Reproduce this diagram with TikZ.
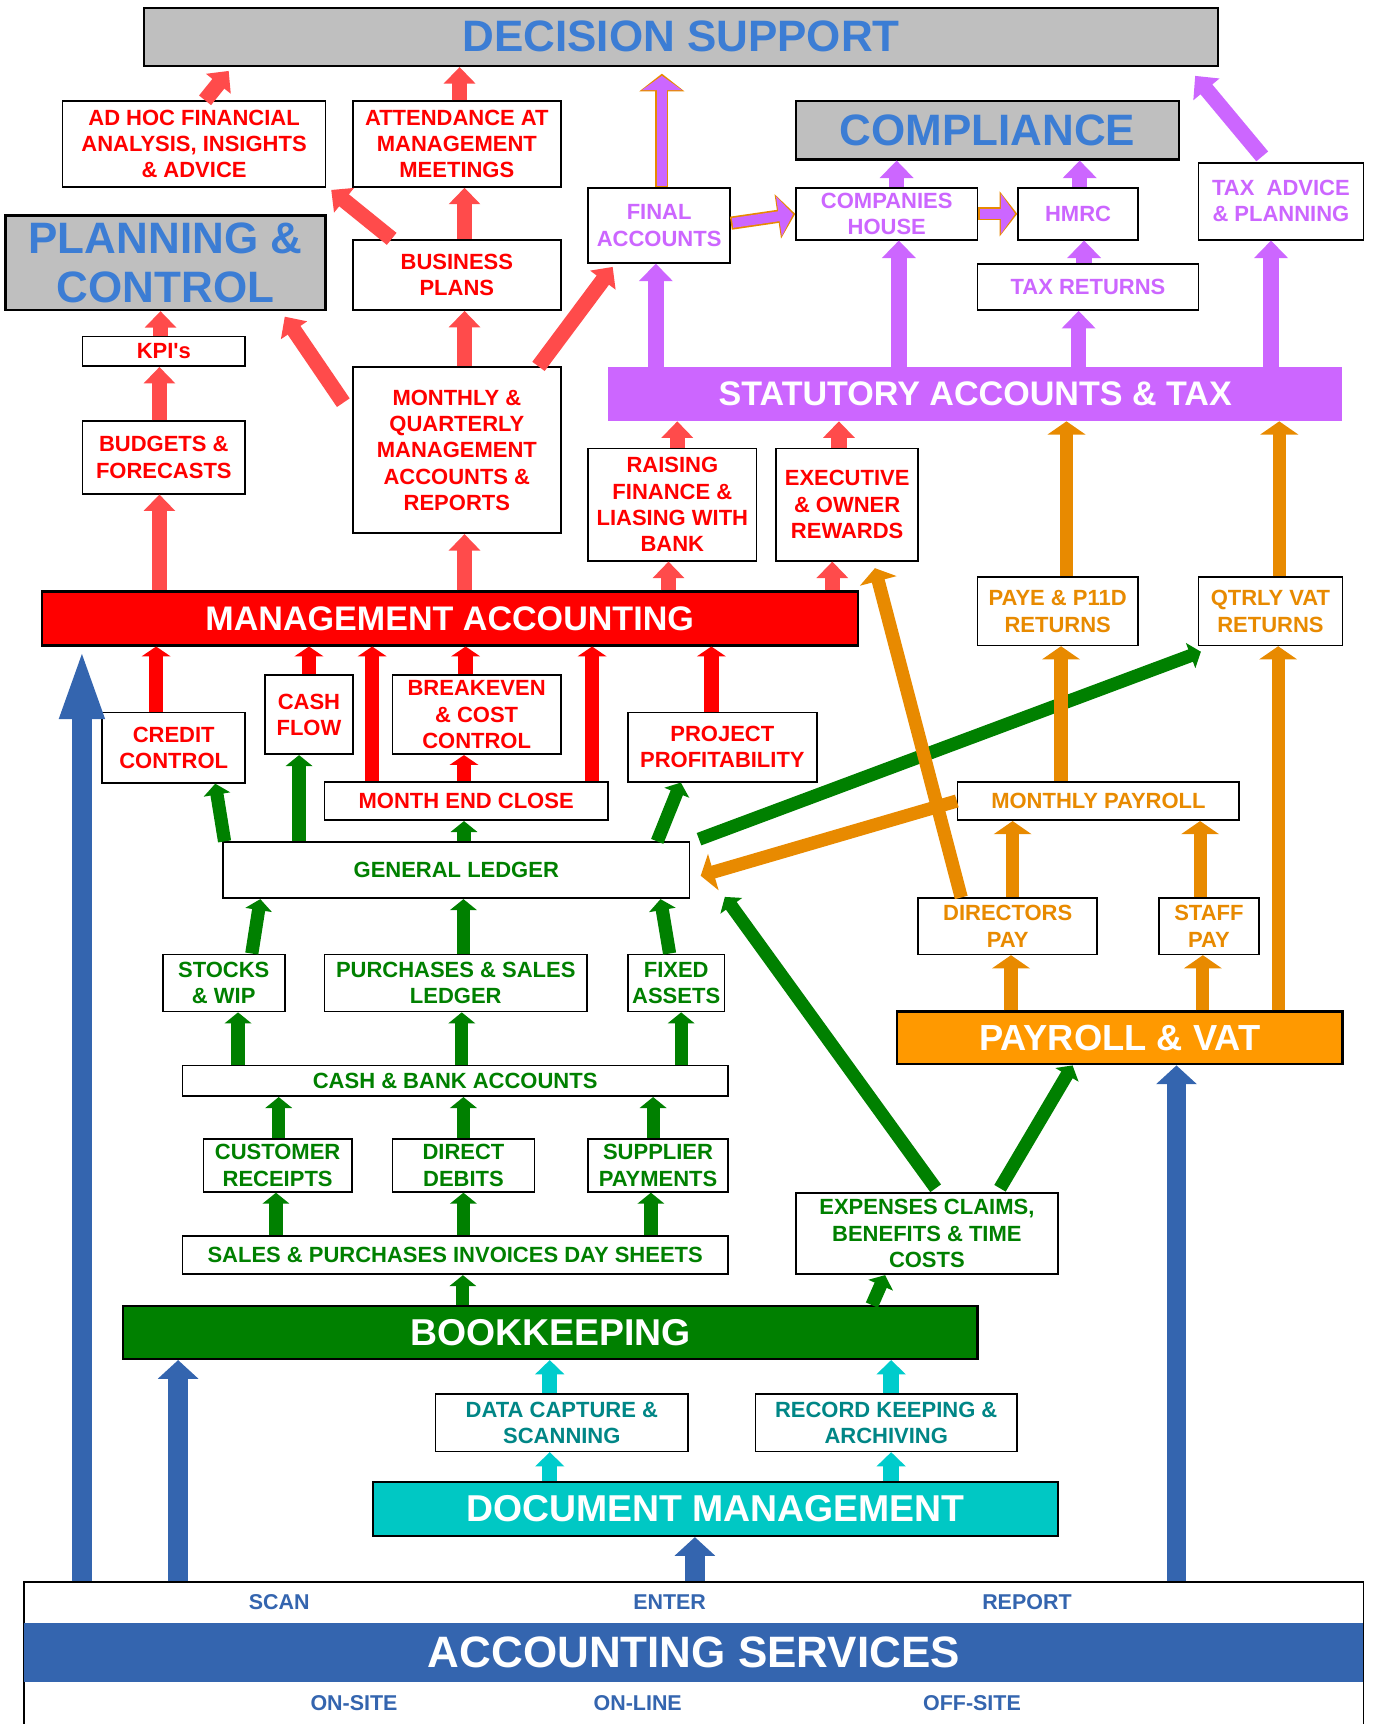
\documentclass[tikz,border=0pt]{standalone}
\usepackage{fontspec}
\setmainfont{Liberation Sans}
\usetikzlibrary{arrows.meta}
\definecolor{hdblue}{RGB}{60,125,212}
\definecolor{hdgray}{RGB}{191,191,191}
\definecolor{lred}{RGB}{255,75,75}
\definecolor{purp}{RGB}{204,102,255}
\definecolor{orng}{RGB}{232,138,0}
\definecolor{orfill}{RGB}{255,153,0}
\definecolor{grn}{RGB}{0,128,0}
\definecolor{tealtxt}{RGB}{0,134,134}
\definecolor{tealarr}{RGB}{0,204,204}
\definecolor{tealfill}{RGB}{0,200,196}
\definecolor{svcblue}{RGB}{52,101,175}

\begin{document}
\begin{tikzpicture}[x=1pt,y=-1pt,
  every node/.style={font=\bfseries\fontsize{20}{24}\selectfont,align=center,inner sep=0pt},
  main box/.style={draw=black,line width=1.5pt,fill=white},
  title box/.style={draw=black,line width=2pt,fill=hdgray,text=hdblue,font=\bfseries\fontsize{40}{45}\selectfont},
  bar/.style={text=white,font=\bfseries\fontsize{31}{36}\selectfont},
  big bar/.style={draw=black,line width=2pt,text=white,font=\bfseries\fontsize{34}{38}\selectfont},
  svc text/.style={text=svcblue,font=\bfseries\fontsize{19.5}{22}\selectfont},
  red arrow/.style={lred,line width=14pt,-{Triangle[width=28pt,length=15pt]}},
  bright arrow/.style={red,line width=13pt,-{Triangle[width=26pt,length=9pt]}},
  pur arrow/.style={purp,line width=14pt,-{Triangle[width=30pt,length=16pt]}},
  pur out/.style={orng,line width=12pt,-{Triangle[width=40pt,length=16pt]}},
  pur in/.style={purp,line width=9pt,shorten >=2pt,shorten <=1.5pt,-{Triangle[width=36pt,length=13pt]}},
  org arrow/.style={orng,line width=12pt,-{Triangle[width=34pt,length=12pt]}},
  grn arrow/.style={grn,line width=12pt,-{Triangle[width=24pt,length=10pt]}},
  teal arrow/.style={tealarr,line width=14pt,-{Triangle[width=26pt,length=13pt]}},
  blue arrow/.style={svcblue,line width=18pt,-{Triangle[width=36pt,length=17pt]}},
  blue long/.style={svcblue,line width=18pt,-{Triangle[width=36pt,length=66pt]}}]

\useasboundingbox (0,0) rectangle (1248,1568);

% Headings
  \node[title box,minimum width=977,minimum height=53] (dec) at (619.5,33.5) {DECISION SUPPORT};
  \node[title box,minimum width=348,minimum height=53] (comp) at (898,118.5) {COMPLIANCE};
  \node[title box,minimum width=291,minimum height=86] (plan) at (150.5,239) {PLANNING \&\\CONTROL};

% Decision support boxes
  \node[main box,text=red,minimum width=239,minimum height=78] (adhoc) at (176.5,131) {AD HOC FINANCIAL\\ANALYSIS, INSIGHTS\\\& ADVICE};
  \node[main box,text=red,minimum width=189,minimum height=78] (attend) at (415.5,131) {ATTENDANCE AT\\MANAGEMENT\\MEETINGS};
  \node[main box,text=red,minimum width=189,minimum height=64] (busplan) at (415.5,250) {BUSINESS\\PLANS};
  \node[main box,text=red,minimum width=148,minimum height=27] (kpi) at (149,319.5) {KPI\textquotesingle s};
  \node[main box,text=red,minimum width=148,minimum height=66] (budget) at (149,416) {BUDGETS \&\\FORECASTS};
  \node[main box,text=red,minimum width=189,minimum height=151] (monthly) at (415.5,409.5) {MONTHLY \&\\QUARTERLY\\MANAGEMENT\\ACCOUNTS \&\\REPORTS};
  \node[main box,text=red,minimum width=153,minimum height=102] (raising) at (611.5,459) {RAISING\\FINANCE \&\\LIASING WITH\\BANK};
  \node[main box,text=red,minimum width=129,minimum height=102] (exec) at (770.5,459) {EXECUTIVE\\\& OWNER\\REWARDS};

% Compliance boxes
  \node[main box,text=purp,minimum width=129,minimum height=68] (final) at (599.5,205) {FINAL\\ACCOUNTS};
  \node[main box,text=purp,minimum width=165,minimum height=47] (coho) at (806.5,194.5) {COMPANIES\\HOUSE};
  \node[main box,text=purp,minimum width=109,minimum height=47] (hmrc) at (980.5,194.5) {HMRC};
  \node[main box,text=purp,minimum width=150,minimum height=70] (taxadv) at (1165,183) {TAX\ \ ADVICE\\\& PLANNING};
  \node[main box,text=purp,minimum width=201,minimum height=42] (taxret) at (989.5,261) {TAX RETURNS};
  \node[bar,fill=purp,minimum width=668,minimum height=49] (stat) at (887,358.5) {STATUTORY ACCOUNTS \& TAX};

% Management accounting
  \node[bar,draw=black,line width=2pt,fill=red,minimum width=742,minimum height=49] (macc) at (409,562.5) {MANAGEMENT ACCOUNTING};
  \node[main box,text=red,minimum width=130,minimum height=64] (credit) at (158,680) {CREDIT\\CONTROL};
  \node[main box,text=red,minimum width=80,minimum height=72] (cashflow) at (281,650) {CASH\\FLOW};
  \node[main box,text=red,minimum width=153,minimum height=72] (breakeven) at (433.5,650) {BREAKEVEN\\\& COST\\CONTROL};
  \node[main box,text=red,minimum width=258,minimum height=35] (monthend) at (424,728.5) {MONTH END CLOSE};
  \node[main box,text=red,minimum width=172,minimum height=63] (project) at (657,679.5) {PROJECT\\PROFITABILITY};

% Bookkeeping
  \node[main box,text=grn,minimum width=424,minimum height=51] (gl) at (415,791.5) {GENERAL LEDGER};
  \node[main box,text=grn,minimum width=111,minimum height=52] (stocks) at (203.5,894) {STOCKS\\\& WIP};
  \node[main box,text=grn,minimum width=239,minimum height=52] (psl) at (414.5,894) {PURCHASES \& SALES\\LEDGER};
  \node[main box,text=grn,minimum width=88,minimum height=52] (fixed) at (615,894) {FIXED\\ASSETS};
  \node[main box,text=grn,minimum width=496,minimum height=28] (cashbank) at (414,983) {CASH \& BANK ACCOUNTS};
  \node[main box,text=grn,minimum width=135,minimum height=48] (custrec) at (252.5,1060) {CUSTOMER\\RECEIPTS};
  \node[main box,text=grn,minimum width=129,minimum height=48] (dd) at (421.5,1060) {DIRECT\\DEBITS};
  \node[main box,text=grn,minimum width=127,minimum height=48] (supp) at (598.5,1060) {SUPPLIER\\PAYMENTS};
  \node[main box,text=grn,minimum width=496,minimum height=35] (daysheet) at (414,1141.5) {SALES \& PURCHASES INVOICES DAY SHEETS};
  \node[main box,text=grn,minimum width=238,minimum height=74] (expenses) at (843,1122) {EXPENSES CLAIMS,\\BENEFITS \& TIME\\COSTS};
  \node[big bar,fill=grn,minimum width=777,minimum height=48] (book) at (500.5,1212) {BOOKKEEPING};

% Document management
  \node[main box,text=tealtxt,minimum width=230,minimum height=52] (datacap) at (511,1294) {DATA CAPTURE \&\\SCANNING};
  \node[main box,text=tealtxt,minimum width=238,minimum height=52] (record) at (806,1294) {RECORD KEEPING \&\\ARCHIVING};
  \node[big bar,fill=tealfill,minimum width=623,minimum height=49] (docmgmt) at (650.5,1372.5) {DOCUMENT MANAGEMENT};

% Payroll and VAT
  \node[main box,text=orng,minimum width=146,minimum height=62] (paye) at (962,556) {PAYE \& P11D\\RETURNS};
  \node[main box,text=orng,minimum width=131,minimum height=62] (qvat) at (1155.5,556) {QTRLY VAT\\RETURNS};
  \node[main box,text=orng,minimum width=256,minimum height=35] (mpay) at (999,728.5) {MONTHLY PAYROLL};
  \node[main box,text=orng,minimum width=163,minimum height=51] (dirpay) at (916.5,842.5) {DIRECTORS\\PAY};
  \node[main box,text=orng,minimum width=91,minimum height=51] (staffpay) at (1099.5,842.5) {STAFF\\PAY};
  \node[big bar,fill=orfill,font=\bfseries\fontsize{33}{38}\selectfont,minimum width=405,minimum height=48] (payvat) at (1018.5,944) {PAYROLL \& VAT};

% Accounting services
  \node[main box,minimum width=1218,minimum height=140] (accsvc) at (631,1509) {};
  \node[fill=svcblue,text=white,font=\bfseries\fontsize{40}{45}\selectfont,minimum width=1218,minimum height=54] (band) at (631,1503) {ACCOUNTING SERVICES};
  \node[svc text] (scan) at (254,1457) {SCAN};
  \node[svc text] (enter) at (609,1457) {ENTER};
  \node[svc text] (report) at (934,1457) {REPORT};
  \node[svc text] (onsite) at (322,1549) {ON-SITE};
  \node[svc text] (online) at (580,1549) {ON-LINE};
  \node[svc text] (offsite) at (884,1549) {OFF-SITE};

% RED ARROWS
  \path
    ([xshift=-4pt]budget.south |- macc.north) edge[red arrow] ([xshift=-4pt]budget.south)
    ([xshift=-4pt]budget.north) edge[red arrow] ([xshift=-4pt]budget.north |- kpi.south)
    ([xshift=-3pt]kpi.north) edge[red arrow] ([xshift=-3pt]kpi.north |- plan.south)
    ([xshift=-8pt,yshift=-33pt]monthly.north west) edge[red arrow] ([xshift=-38pt,yshift=-5pt]plan.south east)
    ([xshift=7pt]monthly.north) edge[red arrow] ([xshift=7pt]monthly.north |- busplan.south)
    ([xshift=-21pt]monthly.north east) edge[red arrow] ([xshift=23pt,yshift=-3pt]final.south west)
    ([xshift=36pt]busplan.north west) edge[red arrow] ([xshift=4.5pt,yshift=-2pt]adhoc.south east)
    ([xshift=7pt]busplan.north) edge[red arrow] ([xshift=7pt]busplan.north |- attend.south)
    ([xshift=10pt]adhoc.north) edge[red arrow] ([xshift=78pt,yshift=-3.5pt]dec.south west)
    ([xshift=2.5pt]attend.north) edge[red arrow] ([xshift=2.5pt]attend.north |- dec.south)
    ([xshift=7pt]monthly.south |- macc.north) edge[red arrow] ([xshift=7pt]monthly.south)
    ([xshift=-3.5pt]raising.south |- macc.north) edge[red arrow] ([xshift=-3.5pt]raising.south)
    ([xshift=-13.5pt]exec.south |- macc.north) edge[red arrow] ([xshift=-13.5pt]exec.south)
    ([xshift=4.5pt]raising.north) edge[red arrow] ([xshift=4.5pt]raising.north |- stat.south)
    ([xshift=-7.5pt]exec.north) edge[red arrow] ([xshift=-7.5pt]exec.north |- stat.south);

  \path
    ([xshift=-16pt]credit.north) edge[bright arrow] ([xshift=-16pt]credit.north |- macc.south)
    (cashflow.north) edge[bright arrow] (cashflow.north |- macc.south)
    ([xshift=-85.5pt]monthend.north) edge[bright arrow] ([xshift=-85.5pt]monthend.north |- macc.south)
    ([xshift=-10pt]breakeven.north) edge[bright arrow] ([xshift=-10pt]breakeven.north |- macc.south)
    ([xshift=-2pt]monthend.north) edge[bright arrow] ([xshift=-2pt]monthend.north |- breakeven.south)
    ([xshift=114.5pt]monthend.north) edge[bright arrow] ([xshift=114.5pt]monthend.north |- macc.south)
    ([xshift=-10pt]project.north) edge[bright arrow] ([xshift=-10pt]project.north |- macc.south);

% PURPLE ARROWS
  \path
    ([xshift=2.5pt]final.north) edge[pur out] ([xshift=2.5pt,yshift=-6pt]final.north |- dec.south)
    ([xshift=2.5pt]final.north) edge[pur in] ([xshift=2.5pt,yshift=-6pt]final.north |- dec.south)
    ([yshift=2pt]final.east) edge[pur out] (coho.west)
    ([yshift=2pt]final.east) edge[pur in] (coho.west)
    (coho.east) edge[pur out] (hmrc.west)
    (coho.east) edge[pur in] (hmrc.west);

  \path
    ([xshift=9pt]coho.north) edge[pur arrow] ([xshift=9pt]coho.north |- comp.south)
    ([xshift=1.5pt]hmrc.north) edge[pur arrow] ([xshift=1.5pt]hmrc.north |- comp.south)
    ([xshift=-3.5pt]taxret.north) edge[pur arrow] ([xshift=-3.5pt]taxret.north |- hmrc.south)
    ([xshift=-3pt]final.south |- stat.north) edge[pur arrow] ([xshift=-3pt]final.south)
    ([xshift=11pt]coho.south |- stat.north) edge[pur arrow] ([xshift=11pt]coho.south)
    ([xshift=-8.5pt]taxret.south |- stat.north) edge[pur arrow] ([xshift=-8.5pt]taxret.south)
    ([xshift=-9pt]taxadv.south |- stat.north) edge[pur arrow] ([xshift=-9pt]taxadv.south)
    ([xshift=-17pt,yshift=5pt]taxadv.north) edge[pur arrow] ([xshift=-22pt,yshift=-8pt]dec.south east);

% GREEN ARROWS
  \path
    ([xshift=2pt]gl.north west) edge[grn arrow] ([xshift=-28pt]credit.south east)
    ([xshift=-9pt]cashflow.south |- gl.north) edge[grn arrow] ([xshift=-9pt]cashflow.south)
    ([xshift=-2pt]monthend.south |- gl.north) edge[grn arrow] ([xshift=-2pt]monthend.south)
    ([xshift=-30pt]gl.north east) edge[grn arrow] ([xshift=49pt]project.south west)
    ([xshift=25.5pt]stocks.north) edge[grn arrow] ([xshift=34.5pt]gl.south west)
    ([xshift=7pt]psl.north) edge[grn arrow] ([xshift=7pt]psl.north |- gl.south)
    ([xshift=-6pt]fixed.north) edge[grn arrow] ([xshift=-27pt]gl.south east)
    ([xshift=13pt]stocks.south |- cashbank.north) edge[grn arrow] ([xshift=13pt]stocks.south)
    ([xshift=5.5pt]psl.south |- cashbank.north) edge[grn arrow] ([xshift=5.5pt]psl.south)
    ([xshift=4.5pt]fixed.south |- cashbank.north) edge[grn arrow] ([xshift=4.5pt]fixed.south)
    ([xshift=1pt]custrec.north) edge[grn arrow] ([xshift=1pt]custrec.north |- cashbank.south)
    (dd.north) edge[grn arrow] (dd.north |- cashbank.south)
    ([xshift=-4.5pt]supp.north) edge[grn arrow] ([xshift=-4.5pt]supp.north |- cashbank.south)
    ([xshift=-1.5pt]custrec.south |- daysheet.north) edge[grn arrow] ([xshift=-1.5pt]custrec.south)
    (dd.south |- daysheet.north) edge[grn arrow] (dd.south)
    ([xshift=-6.5pt]supp.south |- daysheet.north) edge[grn arrow] ([xshift=-6.5pt]supp.south)
    ([xshift=7pt]daysheet.south |- book.north) edge[grn arrow] ([xshift=7pt]daysheet.south)
    ([xshift=-97pt]book.north east) edge[grn arrow] ([xshift=-38pt]expenses.south)
    ([xshift=8pt,yshift=3.5pt]expenses.north) edge[grn arrow] ([xshift=31.5pt,yshift=2pt]gl.south east)
    ([xshift=66.5pt,yshift=3.5pt]expenses.north) edge[grn arrow] ([xshift=-43pt]payvat.south)
    ([xshift=8pt,yshift=2pt]gl.north east) edge[grn arrow] ([xshift=3pt,yshift=-5pt]qvat.south west);

% ORANGE ARROWS
  \path
    ([xshift=8pt]paye.north) edge[org arrow] ([xshift=8pt]paye.north |- stat.south)
    ([xshift=8pt]qvat.north) edge[org arrow] ([xshift=8pt]qvat.north |- stat.south)
    ([xshift=-34pt]mpay.north) edge[org arrow] ([xshift=-34pt]mpay.north |- paye.south)
    ([xshift=7pt]qvat.south |- payvat.north) edge[org arrow] ([xshift=7pt]qvat.south)
    ([xshift=4.5pt]dirpay.north) edge[org arrow] ([xshift=4.5pt]dirpay.north |- mpay.south)
    ([xshift=-8pt]staffpay.north) edge[org arrow] ([xshift=-8pt]staffpay.north |- mpay.south)
    ([xshift=3pt]dirpay.south |- payvat.north) edge[org arrow] ([xshift=3pt]dirpay.south)
    ([xshift=-5.5pt]staffpay.south |- payvat.north) edge[org arrow] ([xshift=-5.5pt]staffpay.south)
    ([xshift=40pt]dirpay.north west) edge[org arrow] ([xshift=-40pt,yshift=-6pt]exec.south east)
    (mpay.west) edge[org arrow] ([xshift=9.5pt,yshift=-5pt]gl.east);

% TEAL ARROWS
  \path
    ([xshift=-11pt]datacap.north) edge[teal arrow] ([xshift=-11pt]datacap.north |- book.south)
    ([xshift=4.5pt]record.north) edge[teal arrow] ([xshift=4.5pt]record.north |- book.south)
    ([xshift=-11pt]datacap.south |- docmgmt.north) edge[teal arrow] ([xshift=-11pt]datacap.south)
    ([xshift=4.5pt]record.south |- docmgmt.north) edge[teal arrow] ([xshift=4.5pt]record.south);

% BLUE ARROWS
  \path
    ([xshift=37.5pt]macc.south west |- accsvc.north) edge[blue long] ([xshift=37.5pt]macc.south west)
    ([xshift=51pt]book.south west |- accsvc.north) edge[blue arrow] ([xshift=51pt]book.south west)
    ([xshift=-18.5pt]docmgmt.south |- accsvc.north) edge[blue arrow] ([xshift=-18.5pt]docmgmt.south)
    ([xshift=51.5pt]payvat.south |- accsvc.north) edge[blue arrow] ([xshift=51.5pt]payvat.south);

\end{tikzpicture}
\end{document}
